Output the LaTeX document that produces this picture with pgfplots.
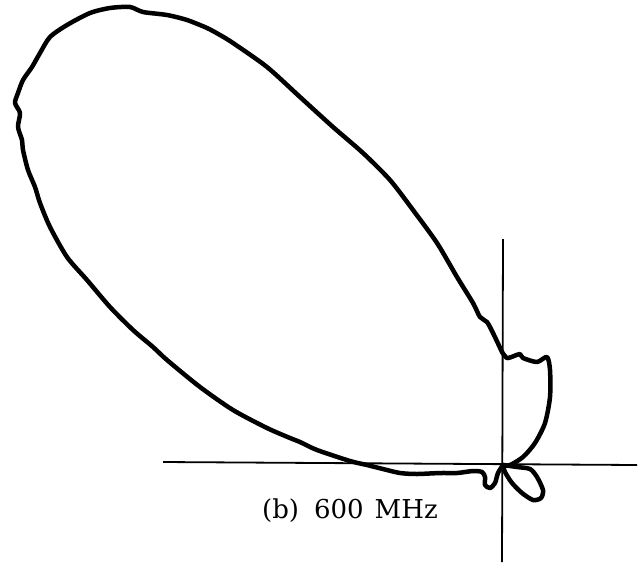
\documentclass[border=0pt]{standalone}
\usepackage{pgfplots}
\pgfplotsset{compat=1.18}
\usepackage{fontspec}
\setmainfont{DejaVu Serif}
\begin{document}
\begin{tikzpicture}
\begin{axis}[
  width=644pt, height=562pt, scale only axis,
  xmin=0, xmax=644, ymin=0, ymax=562, y dir=reverse,
  hide axis, clip=false,
  pattern/.style={black, line width=4.5pt, line join=round, line cap=round,
    smooth, tension=0.45},
]
% frame of the drawing area
\path (axis cs:0,0) rectangle (axis cs:644,562);
% reference axes through the feed point
\addplot[black, line width=1.8pt] coordinates {(503,239) (502,562)};
\addplot[black, line width=1.8pt] coordinates {(163,462) (637,465)};
% radiation pattern, 600 MHz: back lobe (lower right)
\addplot[pattern] coordinates {
(503,465) (517,467) (530,469) (537,477) (543,490) (541,498) (533,500)
(522,493) (512,483) (505,472) (503,465)
};
% minor lobe, tail and main beam
\addplot[pattern] coordinates {
(503,465) (498,473) (495,483) (490,488) (485,485) (485,477) (482,472)
(473,471) (457,473) (440,473) (417,474) (400,473) (383,469) (367,465)
(350,461) (317,450) (300,442) (290,438) (267,428) (233,410) (200,387)
(167,360) (153,347) (133,330) (110,307) (87,280) (67,257) (50,227)
(40,203) (35,187) (28,170) (23,150) (22,140) (18,127) (20,113) (15,103)
(18,93) (23,80) (32,67) (40,53) (50,37) (67,25) (90,13) (110,8) (130,7)
(143,12) (167,15) (187,20) (207,28) (220,35) (233,43) (267,67)
(300,97) (333,127) (363,153) (390,180) (413,210) (437,243) (457,277)
(473,303) (480,317) (487,322) (493,333) (502,352)
};
% side lobe right of the axis
\addplot[pattern] coordinates {
(502,352) (507,358) (514,356) (520,354) (523,358) (537,362) (547,357)
(550,370) (550,397) (545,423) (535,443) (523,457) (510,465) (503,465)
};
\node[anchor=base west, inner sep=0pt, font=\fontsize{26}{26}\selectfont]
  at (axis cs:262,518) {(b)\hspace{15pt}600\hspace{11pt}MHz};
\end{axis}
\end{tikzpicture}
\end{document}
